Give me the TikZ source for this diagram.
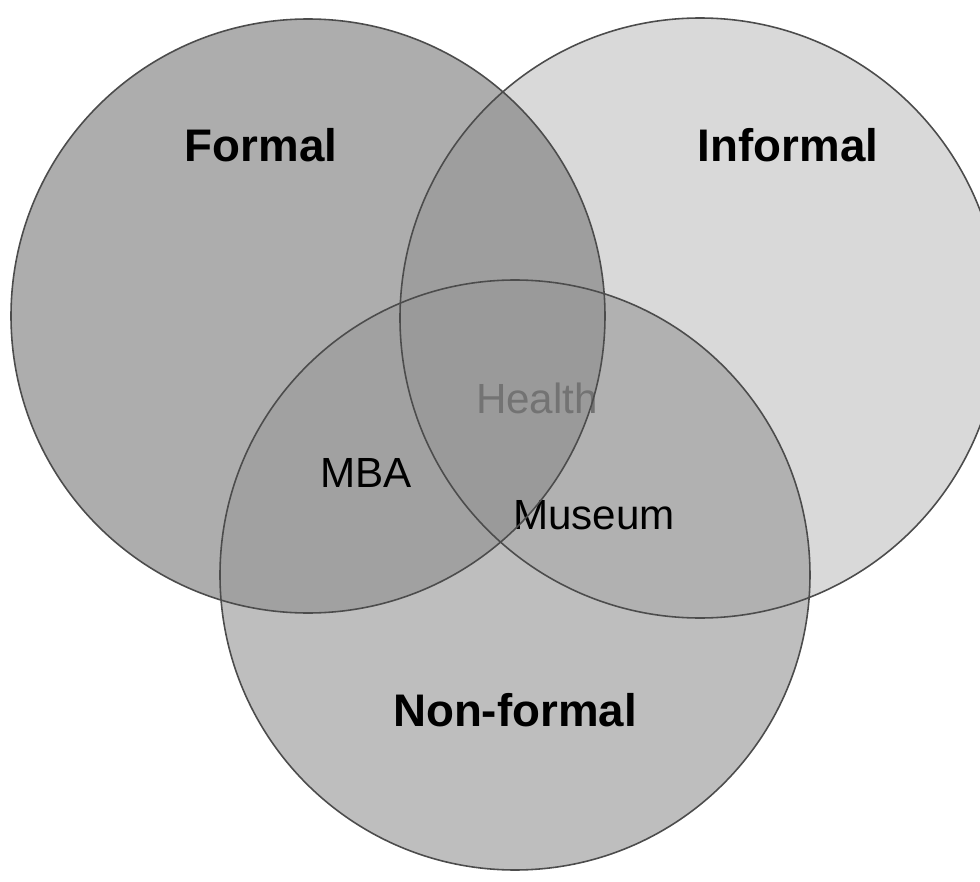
\documentclass[tikz,border=0pt]{standalone}
\usepackage{fontspec}
\setmainfont{Liberation Sans}
\usetikzlibrary{calc}

\definecolor{fcol}{HTML}{ADADAD}
\definecolor{icol}{HTML}{D9D9D9}
\definecolor{ncol}{HTML}{BEBEBE}
\definecolor{ficol}{HTML}{9E9E9E}
\definecolor{fncol}{HTML}{A1A1A1}
\definecolor{incol}{HTML}{B1B1B1}
\definecolor{allcol}{HTML}{9A9A9A}

\begin{document}
\begin{tikzpicture}[
  rim/.style={draw=black!70, line width=0.45pt},
  setname/.style={font=\fontsize{13}{15}\selectfont\bfseries},
  item/.style={font=\fontsize{12}{14}\selectfont}]
\useasboundingbox (0,0) rectangle (9.8,8.82);
\coordinate (formal) at (3.08,5.66);
\coordinate (informal) at (7.00,5.64);
\coordinate (nonformal) at (5.15,3.07);
\def\rf{2.97}
\def\ri{3.00}
\def\rn{2.95}
%% single regions
\fill[fcol] (formal) circle (\rf);
\fill[icol] (informal) circle (\ri);
\fill[ncol] (nonformal) circle (\rn);
%% overlaps
\begin{scope}
\clip (formal) circle (\rf);
\fill[ficol] (informal) circle (\ri);
\end{scope}
\begin{scope}
\clip (formal) circle (\rf);
\fill[fncol] (nonformal) circle (\rn);
\end{scope}
\begin{scope}
\clip (informal) circle (\ri);
\fill[incol] (nonformal) circle (\rn);
\end{scope}
\begin{scope}
\clip (formal) circle (\rf);
\clip (informal) circle (\ri);
\fill[allcol] (nonformal) circle (\rn);
\end{scope}
%% labels
\node[setname] (formallbl) at (2.61,7.37) {Formal};
\node[setname] (informallbl) at (7.88,7.37) {Informal};
\node[setname] (nonformallbl) at (5.15,1.72) {Non-formal};
\node[item] (mba) at (3.66,4.09) {MBA};
\node[item, text=black!55] (health) at (5.37,4.84) {Health};
\node[item] (museum) at (5.94,3.67) {Museum};
%% outlines
\draw[rim] (formal) circle (\rf);
\draw[rim] (informal) circle (\ri);
\draw[rim] (nonformal) circle (\rn);
\end{tikzpicture}
\end{document}
